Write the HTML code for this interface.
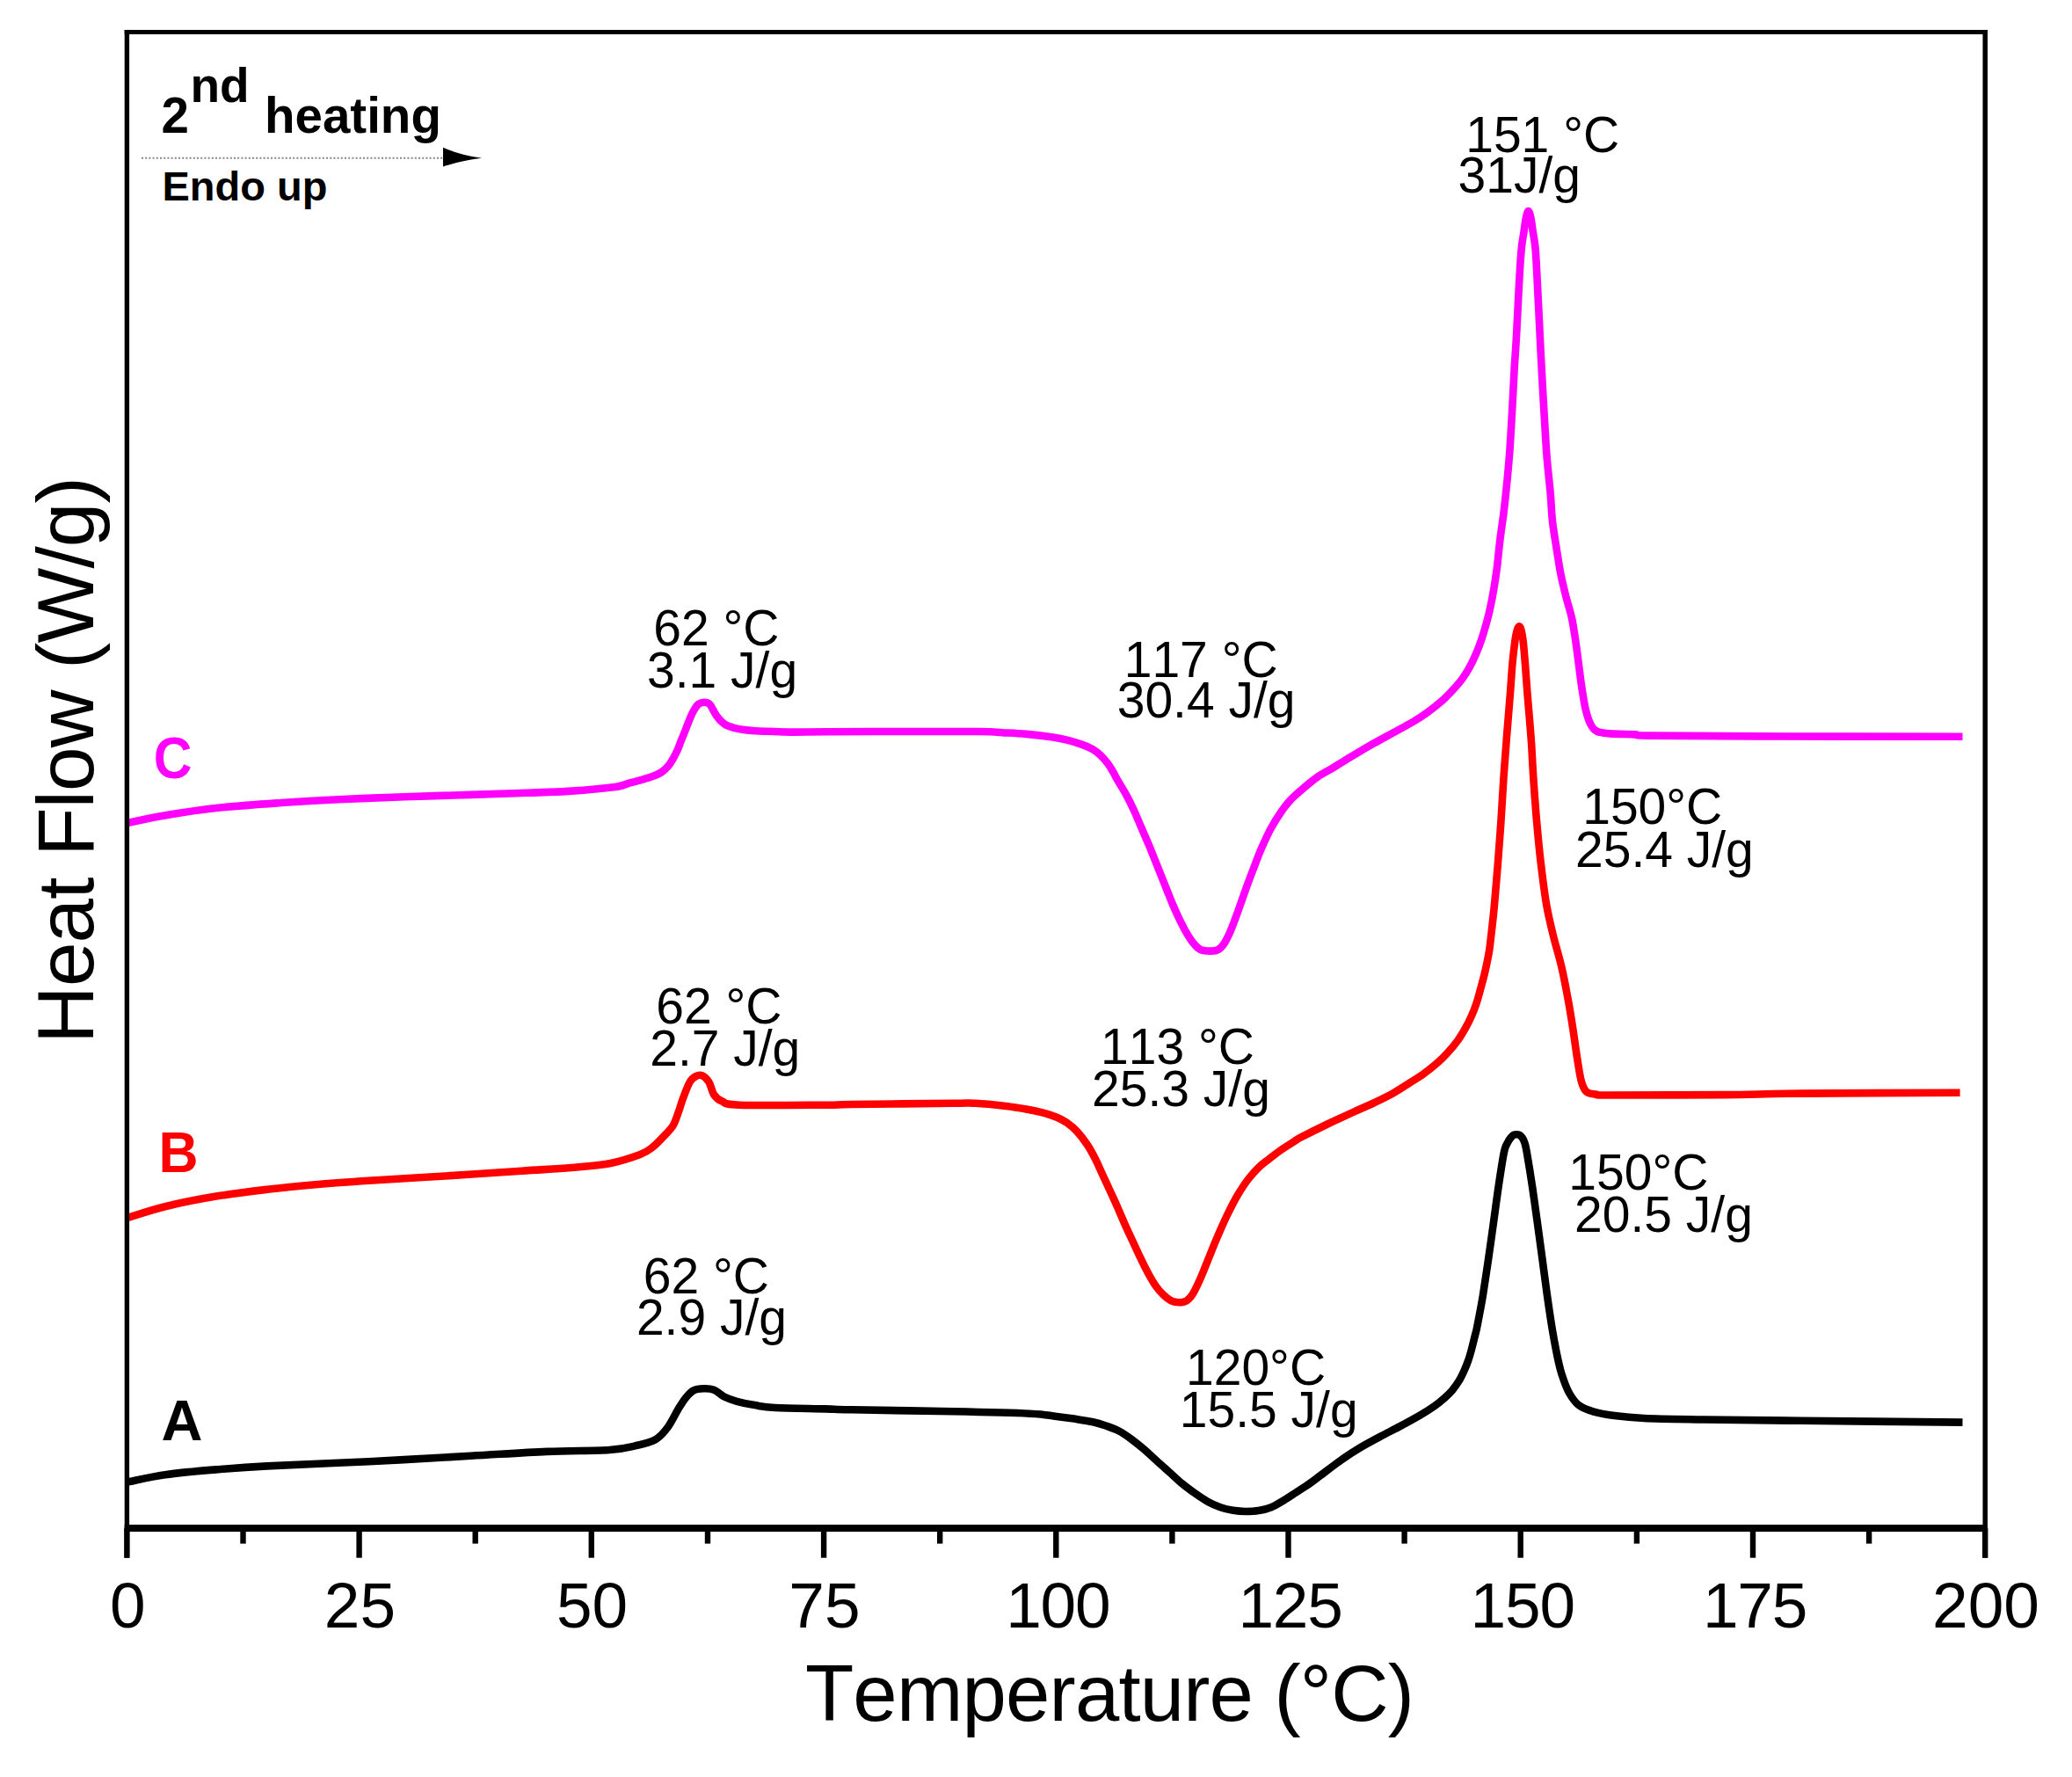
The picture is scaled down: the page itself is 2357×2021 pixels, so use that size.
<!DOCTYPE html>
<html><head><meta charset="utf-8"><title>DSC 2nd heating</title>
<style>
html,body{margin:0;padding:0;background:#fff;}
body{width:2357px;height:2021px;overflow:hidden;}
svg{display:block;}
text{font-family:"Liberation Sans",Arial,sans-serif;fill:#000;font-kerning:none;}
.b{font-weight:bold;}
</style></head><body>
<svg width="2357" height="2021" viewBox="0 0 2357 2021">
<rect width="2357" height="2021" fill="#fff"/>
<g fill="none" stroke-linejoin="round" stroke-linecap="butt" stroke-width="8.6">
<path stroke="#ff00ff" d="M146.0 935.7C152.8 934.3 170.4 930.3 187.0 927.5C203.6 924.7 223.6 921.4 245.8 919.0C268.0 916.6 295.9 914.7 320.0 913.0C344.1 911.3 367.3 910.1 390.6 909.0C413.9 907.9 435.9 907.1 460.0 906.3C484.1 905.4 512.1 904.6 535.4 903.9C558.7 903.1 580.9 902.5 600.0 901.8C619.1 901.1 633.3 900.8 650.0 899.6C666.7 898.5 689.2 896.3 700.0 894.9C710.8 893.5 709.7 892.3 714.5 891.0C719.3 889.7 724.5 888.4 729.0 887.1C733.5 885.8 737.6 884.7 741.5 883.3C745.4 881.9 749.1 880.4 752.1 878.5C755.1 876.6 757.5 874.3 759.8 871.7C762.0 869.1 763.8 866.0 765.6 863.0C767.4 860.0 769.0 856.6 770.5 853.4C772.0 850.2 773.0 846.9 774.3 843.7C775.6 840.5 776.9 837.3 778.2 834.1C779.5 830.9 780.7 827.6 782.0 824.4C783.3 821.2 784.6 817.6 785.9 814.7C787.2 811.8 788.3 809.3 789.8 807.0C791.2 804.7 792.7 802.2 794.6 800.8C796.5 799.4 799.3 798.8 801.4 798.8C803.5 798.8 805.5 799.4 807.1 800.8C808.7 802.2 809.7 804.8 811.0 807.0C812.3 809.2 813.4 811.7 814.9 813.8C816.4 815.9 817.9 817.8 819.7 819.6C821.5 821.4 822.9 823.0 825.5 824.4C828.1 825.8 831.9 826.9 835.1 827.8C838.3 828.7 840.8 829.1 844.8 829.7C848.8 830.3 854.5 830.9 859.3 831.2C864.1 831.6 866.9 831.6 873.7 831.8C880.5 832.0 889.0 832.5 900.0 832.6C911.0 832.7 917.9 832.4 939.6 832.3C961.3 832.2 1000.8 832.0 1030.0 832.0C1059.2 832.0 1096.7 831.8 1115.0 832.0C1133.3 832.2 1131.3 832.7 1140.0 833.2C1148.7 833.7 1158.0 834.1 1167.4 834.9C1176.8 835.7 1188.7 837.1 1196.4 838.2C1204.1 839.3 1208.0 840.2 1213.8 841.7C1219.6 843.2 1226.3 845.2 1231.1 846.9C1235.9 848.6 1239.2 850.1 1242.7 852.1C1246.2 854.1 1249.1 856.4 1252.0 859.1C1254.9 861.8 1257.8 865.2 1260.1 868.3C1262.4 871.4 1264.2 874.4 1266.0 877.5C1267.8 880.6 1268.6 882.6 1271.2 887.1C1273.8 891.6 1278.3 898.8 1281.5 904.6C1284.7 910.5 1287.3 915.9 1290.2 922.2C1293.1 928.6 1296.1 935.9 1299.0 942.7C1301.9 949.5 1304.9 956.1 1307.8 963.2C1310.7 970.3 1313.7 977.8 1316.6 985.1C1319.5 992.4 1322.5 999.8 1325.4 1007.1C1328.3 1014.4 1331.3 1022.2 1334.2 1029.0C1337.1 1035.8 1340.0 1042.2 1342.9 1048.1C1345.8 1054.0 1349.0 1059.8 1351.7 1064.2C1354.4 1068.6 1356.6 1071.7 1359.0 1074.4C1361.4 1077.1 1363.4 1079.1 1366.3 1080.3C1369.2 1081.5 1373.4 1081.6 1376.6 1081.6C1379.8 1081.6 1382.7 1081.8 1385.4 1080.3C1388.1 1078.8 1390.3 1076.6 1392.7 1072.9C1395.1 1069.2 1397.3 1064.6 1400.0 1058.3C1402.7 1052.0 1405.9 1043.0 1408.8 1034.9C1411.7 1026.9 1414.7 1018.0 1417.6 1010.0C1420.5 1002.0 1423.5 994.2 1426.4 986.6C1429.3 979.0 1431.9 971.9 1435.1 964.6C1438.3 957.3 1441.7 949.5 1445.4 942.7C1449.1 935.9 1453.2 929.3 1457.1 923.7C1461.0 918.1 1464.4 913.6 1468.8 909.0C1473.2 904.4 1478.5 900.0 1483.4 895.9C1488.3 891.8 1493.2 887.5 1498.1 884.1C1503.0 880.7 1509.0 877.6 1512.7 875.4C1516.4 873.2 1515.5 873.8 1520.0 871.0C1524.5 868.2 1532.9 863.0 1540.0 858.8C1547.1 854.6 1555.0 849.9 1562.5 845.6C1570.0 841.4 1577.5 837.4 1585.0 833.3C1592.5 829.2 1600.9 824.8 1607.5 820.9C1614.1 817.0 1618.8 813.8 1624.4 809.7C1630.0 805.6 1636.6 800.3 1641.3 796.2C1646.0 792.1 1648.8 789.0 1652.5 784.9C1656.2 780.8 1660.4 776.1 1663.8 771.4C1667.2 766.7 1670.2 761.7 1672.8 756.8C1675.4 751.9 1677.5 747.1 1679.6 742.2C1681.7 737.3 1683.5 732.4 1685.2 727.5C1686.9 722.6 1688.3 717.8 1689.7 712.9C1691.1 708.0 1692.4 703.4 1693.6 698.3C1694.8 693.2 1696.0 687.8 1697.0 682.5C1698.0 677.2 1698.8 673.0 1699.8 666.8C1700.8 660.5 1701.9 653.9 1703.0 645.0C1704.1 636.1 1705.0 625.3 1706.4 613.6C1707.8 601.9 1709.8 590.5 1711.5 575.0C1713.2 559.5 1715.4 537.8 1716.8 520.5C1718.2 503.2 1719.0 487.6 1719.9 471.2C1720.9 454.8 1721.7 436.8 1722.5 422.0C1723.3 407.2 1724.1 399.0 1725.0 382.6C1725.9 366.2 1727.1 339.9 1728.0 323.5C1728.9 307.1 1729.7 294.0 1730.6 284.1C1731.5 274.2 1732.5 270.5 1733.4 264.4C1734.3 258.3 1735.1 251.6 1736.0 247.5C1736.9 243.4 1737.7 240.0 1738.6 240.0C1739.5 240.0 1740.4 243.4 1741.3 247.5C1742.2 251.6 1743.0 258.3 1743.9 264.4C1744.8 270.5 1745.9 274.2 1746.7 284.1C1747.5 294.0 1748.1 307.1 1748.9 323.5C1749.8 339.9 1751.0 366.2 1751.8 382.6C1752.6 399.0 1753.0 407.2 1753.8 422.0C1754.6 436.8 1755.6 454.8 1756.6 471.2C1757.6 487.6 1758.5 505.7 1759.7 520.5C1760.9 535.3 1762.5 547.8 1763.6 560.0C1764.7 572.2 1764.8 582.5 1766.1 593.8C1767.4 605.0 1769.7 617.6 1771.2 627.5C1772.8 637.4 1773.7 644.4 1775.4 652.9C1777.1 661.4 1779.2 669.8 1781.3 678.2C1783.4 686.6 1786.3 695.0 1788.1 703.5C1789.9 712.0 1791.0 720.4 1792.3 728.9C1793.6 737.4 1794.6 745.8 1795.7 754.2C1796.8 762.6 1797.7 771.0 1799.0 779.5C1800.3 788.0 1801.6 797.6 1803.3 804.9C1805.0 812.2 1807.0 818.9 1809.2 823.4C1811.5 827.9 1813.0 830.1 1816.8 831.9C1820.6 833.7 1824.8 833.8 1832.0 834.4C1839.2 835.0 1852.7 835.0 1860.0 835.4C1867.3 835.8 1852.4 836.3 1875.7 836.6C1899.0 836.9 1940.5 837.2 2000.0 837.4C2059.5 837.6 2193.8 837.7 2232.5 837.8"/>
<path stroke="#ff0000" d="M146.0 1384.7C153.0 1382.6 171.3 1376.2 187.9 1372.2C204.5 1368.2 226.5 1363.8 245.8 1360.6C265.1 1357.4 284.5 1355.1 303.8 1352.8C323.1 1350.5 342.4 1348.7 361.7 1347.0C381.0 1345.3 395.5 1344.3 419.6 1342.7C443.7 1341.1 477.5 1339.3 506.5 1337.5C535.5 1335.7 569.5 1333.3 593.4 1331.7C617.3 1330.1 633.3 1329.4 650.0 1328.0C666.7 1326.6 680.4 1325.8 693.4 1323.3C706.4 1320.8 720.0 1316.2 728.2 1313.1C736.4 1309.9 737.9 1308.2 742.7 1304.4C747.5 1300.6 753.4 1294.1 757.2 1290.0C761.1 1285.9 763.4 1283.9 765.8 1279.8C768.2 1275.7 769.7 1270.6 771.6 1265.3C773.5 1260.0 775.2 1253.8 777.4 1248.0C779.6 1242.2 782.3 1234.6 784.7 1230.6C787.1 1226.6 789.5 1225.1 791.9 1223.9C794.3 1222.7 796.7 1222.3 799.1 1223.4C801.5 1224.5 804.2 1227.0 806.4 1230.6C808.6 1234.2 809.8 1241.4 812.2 1245.0C814.6 1248.6 816.1 1250.3 820.9 1252.3C825.7 1254.2 821.3 1256.0 841.1 1256.7C860.9 1257.4 918.4 1256.8 939.6 1256.7C960.9 1256.6 944.5 1256.3 968.6 1256.0C992.7 1255.7 1060.9 1255.0 1084.4 1254.8C1107.9 1254.6 1099.5 1254.3 1109.5 1254.8C1119.5 1255.3 1134.6 1256.9 1144.3 1258.0C1154.0 1259.1 1160.7 1260.3 1167.4 1261.5C1174.2 1262.7 1179.0 1263.7 1184.8 1265.2C1190.6 1266.8 1197.4 1268.8 1202.2 1270.8C1207.0 1272.8 1210.0 1274.4 1213.8 1277.1C1217.6 1279.8 1221.4 1282.8 1225.3 1287.0C1229.2 1291.2 1233.4 1296.8 1236.9 1302.0C1240.4 1307.2 1243.5 1313.2 1246.2 1318.5C1248.9 1323.8 1250.6 1328.0 1253.2 1333.7C1255.8 1339.4 1259.1 1346.4 1262.0 1352.7C1264.9 1359.0 1267.8 1365.1 1270.7 1371.7C1273.6 1378.3 1276.6 1385.6 1279.5 1392.2C1282.4 1398.8 1285.4 1404.9 1288.3 1411.2C1291.2 1417.5 1294.2 1424.1 1297.1 1430.2C1300.0 1436.3 1303.0 1442.4 1305.9 1447.8C1308.8 1453.2 1311.7 1458.2 1314.6 1462.4C1317.5 1466.6 1320.5 1469.9 1323.4 1472.7C1326.3 1475.5 1329.3 1477.9 1332.2 1479.3C1335.1 1480.7 1338.1 1481.2 1341.0 1481.2C1343.9 1481.2 1347.1 1481.0 1349.8 1479.3C1352.5 1477.6 1354.7 1475.0 1357.1 1471.2C1359.5 1467.4 1362.0 1462.0 1364.4 1456.6C1366.8 1451.2 1369.0 1445.6 1371.7 1439.0C1374.4 1432.4 1377.6 1424.2 1380.5 1417.1C1383.4 1410.0 1386.4 1403.2 1389.3 1396.6C1392.2 1390.0 1394.9 1383.9 1398.1 1377.6C1401.3 1371.2 1404.6 1364.6 1408.3 1358.5C1412.0 1352.4 1416.1 1346.1 1420.0 1341.0C1423.9 1335.9 1427.8 1331.6 1431.7 1327.8C1435.6 1324.0 1439.0 1321.7 1443.4 1318.3C1447.8 1314.9 1453.2 1310.7 1458.1 1307.3C1463.0 1303.9 1469.0 1300.1 1472.7 1297.8C1476.4 1295.5 1473.8 1296.6 1480.0 1293.4C1486.2 1290.2 1500.0 1283.3 1510.0 1278.5C1520.0 1273.7 1531.2 1268.6 1540.0 1264.6C1548.8 1260.6 1555.0 1258.1 1562.5 1254.5C1570.0 1250.9 1578.2 1247.0 1585.0 1243.2C1591.8 1239.4 1597.4 1235.5 1603.0 1231.9C1608.6 1228.3 1613.3 1225.7 1618.8 1221.8C1624.2 1217.9 1631.0 1212.4 1635.7 1208.3C1640.4 1204.2 1643.2 1201.2 1646.9 1197.1C1650.7 1193.0 1654.8 1188.2 1658.2 1183.5C1661.6 1178.8 1664.6 1173.6 1667.2 1168.9C1669.8 1164.2 1671.8 1160.1 1673.9 1155.4C1676.0 1150.7 1677.9 1145.9 1679.6 1140.8C1681.3 1135.7 1682.6 1130.5 1684.1 1125.0C1685.6 1119.5 1687.3 1113.3 1688.6 1108.1C1689.9 1102.8 1690.8 1098.2 1691.8 1093.5C1692.8 1088.8 1693.4 1086.1 1694.3 1080.0C1695.2 1073.9 1696.1 1064.8 1697.0 1057.0C1697.9 1049.2 1698.4 1045.5 1699.6 1033.0C1700.8 1020.5 1702.6 998.2 1703.9 981.8C1705.2 965.4 1706.3 950.2 1707.4 934.5C1708.5 918.8 1709.2 903.0 1710.3 887.3C1711.4 871.5 1712.5 856.5 1713.8 840.0C1715.1 823.5 1716.9 802.3 1718.0 788.0C1719.1 773.7 1719.6 764.2 1720.5 754.2C1721.4 744.2 1722.6 734.4 1723.5 728.0C1724.4 721.6 1725.2 718.6 1726.0 716.0C1726.8 713.4 1727.4 712.3 1728.1 712.3C1728.8 712.3 1729.6 713.4 1730.3 716.0C1731.0 718.6 1731.7 721.6 1732.5 728.0C1733.3 734.4 1734.1 744.2 1734.9 754.2C1735.7 764.2 1736.3 773.7 1737.4 788.0C1738.5 802.3 1740.5 823.5 1741.7 840.0C1742.9 856.5 1743.4 871.5 1744.5 887.3C1745.6 903.0 1746.7 918.8 1748.1 934.5C1749.5 950.2 1750.9 966.0 1752.8 981.8C1754.7 997.6 1756.8 1015.3 1759.2 1029.1C1761.6 1042.9 1764.1 1052.7 1767.0 1064.5C1769.9 1076.3 1773.7 1088.2 1776.4 1100.0C1779.2 1111.8 1781.3 1123.6 1783.5 1135.4C1785.7 1147.2 1787.6 1159.1 1789.4 1170.9C1791.2 1182.7 1793.0 1196.6 1794.6 1206.4C1796.2 1216.2 1797.2 1224.1 1798.9 1230.0C1800.6 1235.9 1802.0 1239.4 1804.8 1241.8C1807.5 1244.2 1810.9 1244.0 1815.4 1244.6C1819.9 1245.2 1807.6 1245.4 1832.0 1245.5C1856.4 1245.6 1925.7 1245.4 1961.7 1245.1C1997.7 1244.8 2003.4 1244.0 2048.1 1243.6C2092.8 1243.2 2199.3 1242.9 2229.6 1242.8"/>
<path stroke="#000" d="M146.0 1685.3C153.0 1684.0 171.3 1679.5 187.9 1677.2C204.5 1674.9 226.5 1673.0 245.8 1671.4C265.1 1669.8 274.8 1668.9 303.8 1667.4C332.8 1665.9 381.0 1664.1 419.6 1662.2C458.2 1660.3 501.6 1657.7 535.4 1655.8C569.2 1653.9 596.0 1652.0 622.3 1650.9C648.6 1649.8 676.7 1650.1 693.4 1649.0C710.1 1647.9 713.7 1646.4 722.4 1644.4C731.1 1642.4 739.3 1640.8 745.6 1637.2C751.9 1633.6 755.7 1628.5 760.0 1622.7C764.3 1616.9 768.2 1608.0 771.6 1602.4C775.0 1596.9 777.4 1592.9 780.3 1589.4C783.2 1585.9 785.6 1583.0 789.0 1581.3C792.4 1579.6 796.7 1579.4 800.6 1579.3C804.5 1579.2 808.3 1579.2 812.2 1580.7C816.1 1582.2 819.5 1586.3 823.8 1588.5C828.1 1590.7 832.4 1592.2 838.2 1593.8C844.0 1595.4 851.2 1596.9 858.5 1598.1C865.8 1599.3 868.2 1600.3 881.7 1601.0C895.2 1601.7 925.1 1602.0 939.6 1602.4C954.1 1602.8 944.5 1602.8 968.6 1603.3C992.7 1603.8 1050.6 1604.6 1084.4 1605.3C1118.2 1606.0 1152.0 1606.8 1171.3 1607.7C1190.6 1608.6 1191.6 1609.7 1200.0 1610.7C1208.4 1611.7 1214.5 1612.5 1221.7 1613.6C1228.9 1614.7 1237.4 1615.9 1243.4 1617.2C1249.4 1618.5 1253.1 1619.8 1257.9 1621.5C1262.7 1623.2 1267.6 1624.8 1272.4 1627.3C1277.2 1629.8 1282.1 1633.2 1286.9 1636.7C1291.7 1640.2 1296.6 1644.2 1301.4 1648.3C1306.2 1652.4 1311.0 1657.1 1315.8 1661.4C1320.6 1665.8 1325.5 1670.1 1330.3 1674.4C1335.1 1678.7 1340.0 1683.4 1344.8 1687.4C1349.6 1691.4 1354.5 1694.9 1359.3 1698.3C1364.1 1701.7 1368.9 1705.0 1373.7 1707.7C1378.5 1710.4 1383.4 1712.5 1388.2 1714.2C1393.0 1715.9 1397.9 1717.0 1402.7 1717.8C1407.5 1718.6 1412.4 1719.0 1417.2 1719.0C1422.0 1719.0 1426.9 1718.9 1431.7 1718.1C1436.5 1717.3 1441.3 1716.2 1446.1 1714.2C1450.9 1712.2 1455.8 1709.1 1460.6 1706.2C1465.4 1703.3 1470.3 1699.9 1475.1 1696.8C1479.9 1693.7 1485.0 1690.6 1489.6 1687.4C1494.2 1684.2 1496.6 1682.2 1502.5 1677.8C1508.4 1673.4 1517.5 1666.2 1525.0 1660.9C1532.5 1655.7 1540.0 1650.8 1547.5 1646.3C1555.0 1641.8 1562.5 1637.9 1570.0 1633.9C1577.5 1629.9 1585.1 1626.1 1592.6 1622.1C1600.1 1618.1 1608.5 1613.5 1615.1 1609.7C1621.7 1605.9 1627.3 1602.3 1632.0 1599.0C1636.7 1595.7 1639.8 1593.0 1643.2 1590.0C1646.6 1587.0 1649.4 1584.4 1652.2 1581.0C1655.0 1577.6 1657.8 1573.5 1660.1 1569.8C1662.3 1566.0 1664.0 1562.2 1665.7 1558.5C1667.4 1554.8 1668.9 1551.0 1670.2 1547.3C1671.5 1543.5 1672.5 1540.1 1673.6 1536.0C1674.7 1531.9 1676.0 1526.6 1677.0 1522.5C1678.0 1518.4 1679.0 1515.0 1679.8 1511.3C1680.6 1507.5 1680.8 1506.5 1682.0 1500.0C1683.2 1493.5 1685.2 1483.9 1687.0 1472.6C1688.8 1461.3 1691.1 1445.6 1693.1 1432.1C1695.1 1418.6 1696.9 1405.1 1698.8 1391.6C1700.7 1378.1 1702.4 1364.5 1704.4 1351.0C1706.4 1337.5 1709.1 1319.1 1710.9 1310.5C1712.7 1301.9 1713.7 1302.3 1715.0 1299.5C1716.3 1296.7 1717.6 1295.0 1718.8 1293.6C1720.0 1292.1 1721.0 1291.4 1722.0 1290.8C1723.0 1290.2 1724.0 1290.2 1725.1 1290.2C1726.1 1290.2 1727.2 1290.2 1728.3 1290.8C1729.3 1291.4 1730.4 1292.1 1731.4 1293.6C1732.4 1295.0 1733.4 1296.7 1734.3 1299.5C1735.2 1302.3 1735.3 1301.9 1736.8 1310.5C1738.3 1319.1 1741.3 1337.5 1743.3 1351.0C1745.3 1364.5 1747.1 1378.1 1749.0 1391.6C1750.9 1405.1 1752.7 1418.6 1754.5 1432.1C1756.3 1445.6 1758.0 1459.1 1759.9 1472.6C1761.8 1486.1 1764.0 1501.3 1766.0 1513.1C1768.0 1524.9 1769.9 1535.0 1771.7 1543.5C1773.5 1552.0 1774.6 1557.0 1776.8 1563.8C1779.0 1570.5 1781.7 1578.3 1784.9 1584.0C1788.1 1589.7 1791.5 1594.7 1796.0 1598.2C1800.5 1601.8 1805.5 1603.3 1812.2 1605.3C1818.9 1607.3 1826.8 1608.7 1836.4 1610.0C1846.1 1611.3 1853.2 1612.2 1870.1 1613.0C1887.0 1613.8 1908.0 1614.0 1937.7 1614.5C1967.4 1615.0 1999.0 1615.3 2048.1 1615.8C2097.2 1616.3 2201.8 1617.3 2232.5 1617.6"/>
</g>
<g stroke="#000" fill="none">
<line x1="144.4" y1="33.9" x2="144.4" y2="1771.7" stroke-width="5.4"/>
<line x1="2258.2" y1="33.9" x2="2258.2" y2="1771.7" stroke-width="5.5"/>
<line x1="141.7" y1="36.4" x2="2260.9" y2="36.4" stroke-width="5"/>
<line x1="141.7" y1="1738" x2="2260.9" y2="1738" stroke-width="7.9"/>
<g stroke-width="6.4"><line x1="144.4" y1="1738.0" x2="144.4" y2="1771.7"/><line x1="276.5" y1="1738.0" x2="276.5" y2="1755.6"/><line x1="408.6" y1="1738.0" x2="408.6" y2="1771.7"/><line x1="540.7" y1="1738.0" x2="540.7" y2="1755.6"/><line x1="672.8" y1="1738.0" x2="672.8" y2="1771.7"/><line x1="805.0" y1="1738.0" x2="805.0" y2="1755.6"/><line x1="937.1" y1="1738.0" x2="937.1" y2="1771.7"/><line x1="1069.2" y1="1738.0" x2="1069.2" y2="1755.6"/><line x1="1201.3" y1="1738.0" x2="1201.3" y2="1771.7"/><line x1="1333.4" y1="1738.0" x2="1333.4" y2="1755.6"/><line x1="1465.5" y1="1738.0" x2="1465.5" y2="1771.7"/><line x1="1597.6" y1="1738.0" x2="1597.6" y2="1755.6"/><line x1="1729.7" y1="1738.0" x2="1729.7" y2="1771.7"/><line x1="1861.9" y1="1738.0" x2="1861.9" y2="1755.6"/><line x1="1994.0" y1="1738.0" x2="1994.0" y2="1771.7"/><line x1="2126.1" y1="1738.0" x2="2126.1" y2="1755.6"/><line x1="2258.2" y1="1738.0" x2="2258.2" y2="1771.7"/></g>
</g>
<g font-size="73"><text x="145.2" y="1851" text-anchor="middle">0</text><text x="409.4" y="1851" text-anchor="middle">25</text><text x="673.6" y="1851" text-anchor="middle">50</text><text x="937.9" y="1851" text-anchor="middle">75</text><text x="1203.3" y="1851" text-anchor="middle" letter-spacing="-1.2">100</text><text x="1467.5" y="1851" text-anchor="middle" letter-spacing="-1.2">125</text><text x="1731.7" y="1851" text-anchor="middle" letter-spacing="-1.2">150</text><text x="1996.0" y="1851" text-anchor="middle" letter-spacing="-1.2">175</text><text x="2259.0" y="1851" text-anchor="middle">200</text></g>
<text x="1262" y="1957" font-size="90.5" text-anchor="middle" letter-spacing="-0.8">Temperature (°C)</text>
<text transform="translate(106,865) rotate(-90)" font-size="91" text-anchor="middle" letter-spacing="-0.9">Heat Flow (W/g)</text>
<g font-size="57"><text x="1667.2" y="172.7">151 °C</text><text x="1658.5" y="219.0">31J/g</text><text x="743.3" y="734.4">62 °C</text><text x="736.0" y="781.8">3.1 J/g</text><text x="1278.7" y="770.0">117 °C</text><text x="1270.7" y="815.8">30.4 J/g</text><text x="1800.2" y="937.2">150°C</text><text x="1792.0" y="985.6">25.4 J/g</text><text x="746.2" y="1164.0">62 °C</text><text x="739.2" y="1211.8">2.7 J/g</text><text x="1252.1" y="1209.6">113 °C</text><text x="1242.1" y="1258.3">25.3 J/g</text><text x="1784.3" y="1352.6">150°C</text><text x="1791.1" y="1401.2">20.5 J/g</text><text x="731.7" y="1470.7">62 °C</text><text x="723.9" y="1517.9">2.9 J/g</text><text x="1349.0" y="1575.0">120°C</text><text x="1341.8" y="1622.5">15.5 J/g</text></g>
<g class="b" font-size="65">
<text transform="translate(174.8,884.7) scale(0.93,1.02)" style="fill:#ff00ff">C</text>
<text transform="translate(180.6,1332.5) scale(0.96,1.01)" style="fill:#ff0000">B</text>
<text x="183.5" y="1638">A</text>
</g>
<text class="b" x="183.5" y="151" font-size="56.5">2</text><text class="b" x="216.5" y="115.6" font-size="55">nd</text><text class="b" x="301" y="151" font-size="56.5">heating</text>
<text class="b" x="184.5" y="227.5" font-size="47">Endo up</text>
<line x1="161" y1="179.7" x2="506" y2="179.7" stroke="#888" stroke-width="2" stroke-dasharray="2 2.2"/>
<path d="M504 167.7 Q524 176.5 548 179.7 Q524 182.5 504 189.5 Z" fill="#000"/>
</svg>
</body></html>
